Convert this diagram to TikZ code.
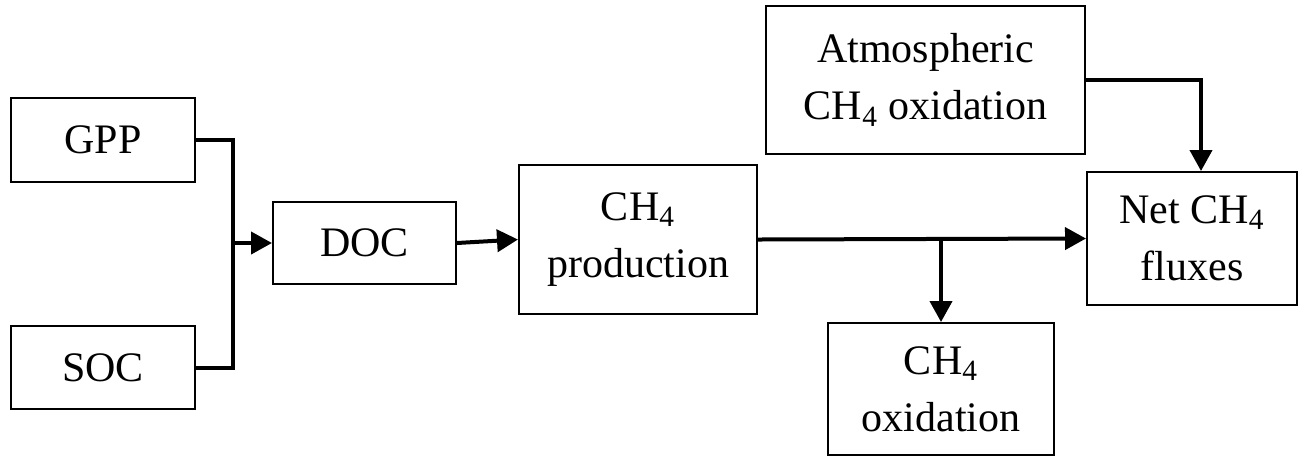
\documentclass[tikz,border=0pt]{standalone}
\usepackage{fontspec}
\setmainfont{Liberation Serif}
\usetikzlibrary{arrows.meta}

\tikzset{
  box/.style={draw, line width=1pt, inner sep=0pt, align=center,
    font=\fontsize{21}{28.5}\selectfont},
  flow/.style={line width=2pt},
  flowarrow/.style={flow, -{Triangle[length=10.5pt,width=11pt]}}
}

\begin{document}
\begin{tikzpicture}[x=0.5pt,y=-0.5pt]
  \useasboundingbox (0,0) rectangle (1299,457);

  % Carbon sources
  \node[box, minimum width=92pt, minimum height=42pt] (gpp) at (103,140) {GPP};%
  \node[box, minimum width=92pt, minimum height=41.5pt] (soc) at (103,367.5) {SOC};%

  % Dissolved organic carbon and production
  \node[box, minimum width=91.5pt, minimum height=41pt] (doc) at (364.5,243) {DOC};%
  \node[box, minimum width=119pt, minimum height=74.5pt] (prod) at (638,239.5) {CH\textsubscript{4}\\production};%

  % Oxidation terms
  \node[box, minimum width=159.5pt, minimum height=74pt] (atm) at (925.5,80) {Atmospheric\\CH\textsubscript{4} oxidation};%
  \node[box, minimum width=113pt, minimum height=66pt] (oxi) at (941,389) {CH\textsubscript{4}\\oxidation};%

  % Net flux
  \node[box, minimum width=105pt, minimum height=66.5pt] (net) at (1192,238.5) {Net CH\textsubscript{4}\\fluxes};%

  % Joining GPP and SOC into DOC
  \coordinate (join) at (233,243);
  \draw[flow] (gpp.east) -| (join);%
  \draw[flow] (soc.east) -| (join);%
  \draw[flowarrow] (join) -- (doc.west);%

  % DOC to production
  \draw[flowarrow] (doc.east) -- (prod.west);%

  % Production to net flux, with oxidation branch
  \draw[flowarrow] (prod.east) -- (net.west);%
  \coordinate (split) at (941,239);
  \draw[flowarrow] (split) -- (oxi.north);%

  % Atmospheric oxidation to net flux
  \draw[flowarrow] (atm.east) -| ([xshift=4.5pt]net.north);%
\end{tikzpicture}
\end{document}
